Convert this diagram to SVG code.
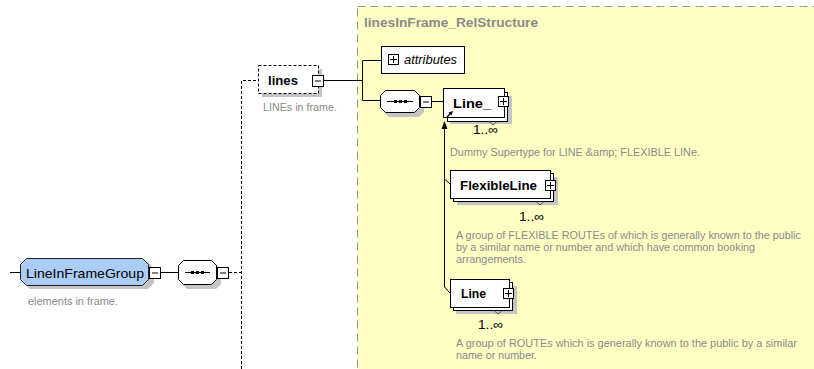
<svg xmlns="http://www.w3.org/2000/svg" width="814" height="369" viewBox="0 0 814 369">
<defs>
<style>
.bg{fill:#ffffff}
.struct{fill:#ffffc4;stroke:#9a9a9a;stroke-width:1;stroke-dasharray:8,5}
.box{fill:#ffffff;stroke:#000000;stroke-width:1}
.shadow{fill:#c4c4c4;stroke:none}
.grp{fill:#abcdf5;stroke:#202020;stroke-width:1}
.conn{fill:none;stroke:#000000;stroke-width:1}
.dash{fill:none;stroke:#000000;stroke-width:1;stroke-dasharray:3,2}
.lbl{font-family:"Liberation Sans",Arial,sans-serif;font-weight:bold;font-size:13px;fill:#000000}
.desc{font-family:"Liberation Sans",Arial,sans-serif;font-size:10px;fill:#8a8a8a}
.title{font-family:"Liberation Sans",Arial,sans-serif;font-weight:bold;font-size:13px;fill:#8a8a8a}
.mult{font-family:"Liberation Sans",Arial,sans-serif;font-size:13px;fill:#000000}
.pm{fill:#ffffff;stroke:#000000;stroke-width:1}
</style>
</defs>
<rect class="bg" x="0" y="0" width="814" height="369"/>
<g id="linesInFrame_RelStructure">
<rect class="struct" x="357.5" y="6.5" width="470" height="380"/>
<text class="title" x="364" y="27" textLength="174" lengthAdjust="spacingAndGlyphs">linesInFrame_RelStructure</text>
</g>
<g id="connectors">
<line class="conn" x1="10" y1="272.5" x2="20" y2="272.5"/>
<line class="conn" x1="161" y1="272.5" x2="178" y2="272.5"/>
<line class="dash" x1="229" y1="272.5" x2="241" y2="272.5"/>
<polyline class="dash" points="241.5,369 241.5,80.5 258,80.5"/>
<line class="conn" x1="323" y1="80.5" x2="362.5" y2="80.5"/>
<polyline class="conn" points="381,60.5 362.5,60.5 362.5,100.5 380,100.5"/>
<line class="conn" x1="432" y1="101.5" x2="443" y2="101.5"/>
<polyline class="conn" points="450,293 444.5,287 444.5,128"/>
<polygon points="444.5,121 441.5,129 447.5,129" fill="#000000"/>
<line class="conn" x1="444.5" y1="179" x2="450" y2="184"/>
</g>
<g id="LineInFrameGroup">
<path class="shadow" d="M30,262 H148 L154,268 V283 L148,289 H30 L24,283 V268 Z"/>
<path class="grp" d="M26.5,258.5 H142.5 L148.5,264.5 V279.5 L142.5,285.5 H26.5 L20.5,279.5 V264.5 Z"/>
<text x="26" y="278" font-family="'Liberation Sans',Arial,sans-serif" font-size="13" fill="#000" textLength="118" lengthAdjust="spacingAndGlyphs">LineInFrameGroup</text>
<rect class="pm" x="149.5" y="267.5" width="11" height="11"/>
<line class="conn" x1="152" y1="273" x2="158" y2="273"/>
<text class="desc" x="28" y="305" textLength="90" lengthAdjust="spacingAndGlyphs">elements in frame.</text>
</g>
<g id="sequence1">
<path class="shadow" d="M187,264 H216 L221,269 V284 L216,289 H187 L182,284 V269 Z"/>
<path class="box" d="M183.5,260.5 H211.5 L216.5,265.5 V279.5 L211.5,284.5 H183.5 L178.5,279.5 V265.5 Z"/>
<line class="conn" x1="185" y1="272.5" x2="210" y2="272.5"/>
<rect x="191" y="271" width="3" height="3" fill="#000"/>
<rect x="196" y="271" width="3" height="3" fill="#000"/>
<rect x="201" y="271" width="3" height="3" fill="#000"/>
<rect class="pm" x="217.5" y="267.5" width="11" height="11"/>
<line class="conn" x1="220" y1="273" x2="226" y2="273"/>
</g>
<g id="lines">
<rect class="shadow" x="262" y="69" width="60" height="28"/>
<rect x="258.5" y="65.5" width="60" height="28" fill="#ffffff" stroke="#000" stroke-dasharray="3,2"/>
<text class="lbl" x="268" y="85" textLength="30" lengthAdjust="spacingAndGlyphs">lines</text>
<rect class="pm" x="312.5" y="75.5" width="11" height="11"/>
<line class="conn" x1="315" y1="81" x2="321" y2="81"/>
<text class="desc" x="263" y="111" textLength="74" lengthAdjust="spacingAndGlyphs">LINEs in frame.</text>
</g>
<g id="attributes">
<rect class="box" x="381.5" y="46.5" width="83" height="27"/>
<rect class="pm" x="388.5" y="54.5" width="10" height="10"/>
<line class="conn" x1="390" y1="59.5" x2="397" y2="59.5"/>
<line class="conn" x1="393.5" y1="56" x2="393.5" y2="63"/>
<text x="404" y="64" font-family="'Liberation Sans',Arial,sans-serif" font-style="italic" font-size="12" fill="#000" textLength="53" lengthAdjust="spacingAndGlyphs">attributes</text>
</g>
<g id="sequence2">
<path class="shadow" d="M389,94 H419 L424,99 V112 L419,117 H389 L384,112 V99 Z"/>
<path class="box" d="M385.5,90.5 H414.5 L419.5,95.5 V107.5 L414.5,112.5 H385.5 L380.5,107.5 V95.5 Z"/>
<line class="conn" x1="387" y1="101.5" x2="413" y2="101.5"/>
<rect x="394" y="100" width="3" height="3" fill="#000"/>
<rect x="399" y="100" width="3" height="3" fill="#000"/>
<rect x="404" y="100" width="3" height="3" fill="#000"/>
<rect class="pm" x="420.5" y="96.5" width="11" height="11"/>
<line class="conn" x1="423" y1="102" x2="429" y2="102"/>
</g>
<g id="Line_">
<rect class="shadow" x="450" y="96" width="62" height="28"/>
<rect class="box" x="447.5" y="92.5" width="60" height="29"/>
<rect class="box" x="443.5" y="88.5" width="61" height="29"/>
<polyline points="489,121.5 493,125 497,121.5" fill="none" stroke="#555"/>
<text class="lbl" x="453" y="108" textLength="38" lengthAdjust="spacingAndGlyphs">Line_</text>
<rect class="pm" x="498.5" y="96.5" width="10" height="10"/>
<line class="conn" x1="500" y1="101.5" x2="507" y2="101.5"/>
<line class="conn" x1="503.5" y1="98" x2="503.5" y2="105"/>
<line x1="447" y1="117" x2="451" y2="113" stroke="#000" stroke-width="1.2"/>
<polygon points="453,111 448.5,112.5 451.5,115.5" fill="#000"/>
<text class="mult" x="473" y="134" textLength="25" lengthAdjust="spacingAndGlyphs">1..∞</text>
<text class="desc" x="450" y="156" textLength="250" lengthAdjust="spacingAndGlyphs">Dummy Supertype for LINE &amp;amp; FLEXIBLE LINe.</text>
</g>
<g id="FlexibleLine">
<rect class="shadow" x="457" y="177" width="101" height="28"/>
<rect class="box" x="453.5" y="173.5" width="100" height="28"/>
<rect class="box" x="450.5" y="170.5" width="100" height="28"/>
<polyline points="536,201.5 540,205 544,201.5" fill="none" stroke="#555"/>
<text class="lbl" x="460" y="190" textLength="77" lengthAdjust="spacingAndGlyphs">FlexibleLine</text>
<rect class="pm" x="545.5" y="180.5" width="10" height="10"/>
<line class="conn" x1="547" y1="185.5" x2="554" y2="185.5"/>
<line class="conn" x1="550.5" y1="182" x2="550.5" y2="189"/>
<text class="mult" x="519" y="221" textLength="25" lengthAdjust="spacingAndGlyphs">1..∞</text>
<text class="desc" x="456" y="239" textLength="345" lengthAdjust="spacingAndGlyphs">A group of FLEXIBLE ROUTEs of which is generally known to the public</text>
<text class="desc" x="456" y="251" textLength="299" lengthAdjust="spacingAndGlyphs">by a similar name or number and which have common booking</text>
<text class="desc" x="456" y="263" textLength="70" lengthAdjust="spacingAndGlyphs">arrangements.</text>
</g>
<g id="Line">
<rect class="shadow" x="456" y="286" width="61" height="28"/>
<rect class="box" x="453.5" y="282.5" width="59" height="28"/>
<rect class="box" x="450.5" y="279.5" width="59" height="28"/>
<polyline points="494,310.5 498,314 502,310.5" fill="none" stroke="#555"/>
<text class="lbl" x="461" y="298" textLength="25" lengthAdjust="spacingAndGlyphs">Line</text>
<rect class="pm" x="503.5" y="288.5" width="10" height="10"/>
<line class="conn" x1="505" y1="293.5" x2="512" y2="293.5"/>
<line class="conn" x1="508.5" y1="290" x2="508.5" y2="297"/>
<text class="mult" x="478" y="329" textLength="25" lengthAdjust="spacingAndGlyphs">1..∞</text>
<text class="desc" x="456" y="347" textLength="341" lengthAdjust="spacingAndGlyphs">A group of ROUTEs which is generally known to the public by a similar</text>
<text class="desc" x="456" y="359" textLength="81" lengthAdjust="spacingAndGlyphs">name or number.</text>
</g>
</svg>
